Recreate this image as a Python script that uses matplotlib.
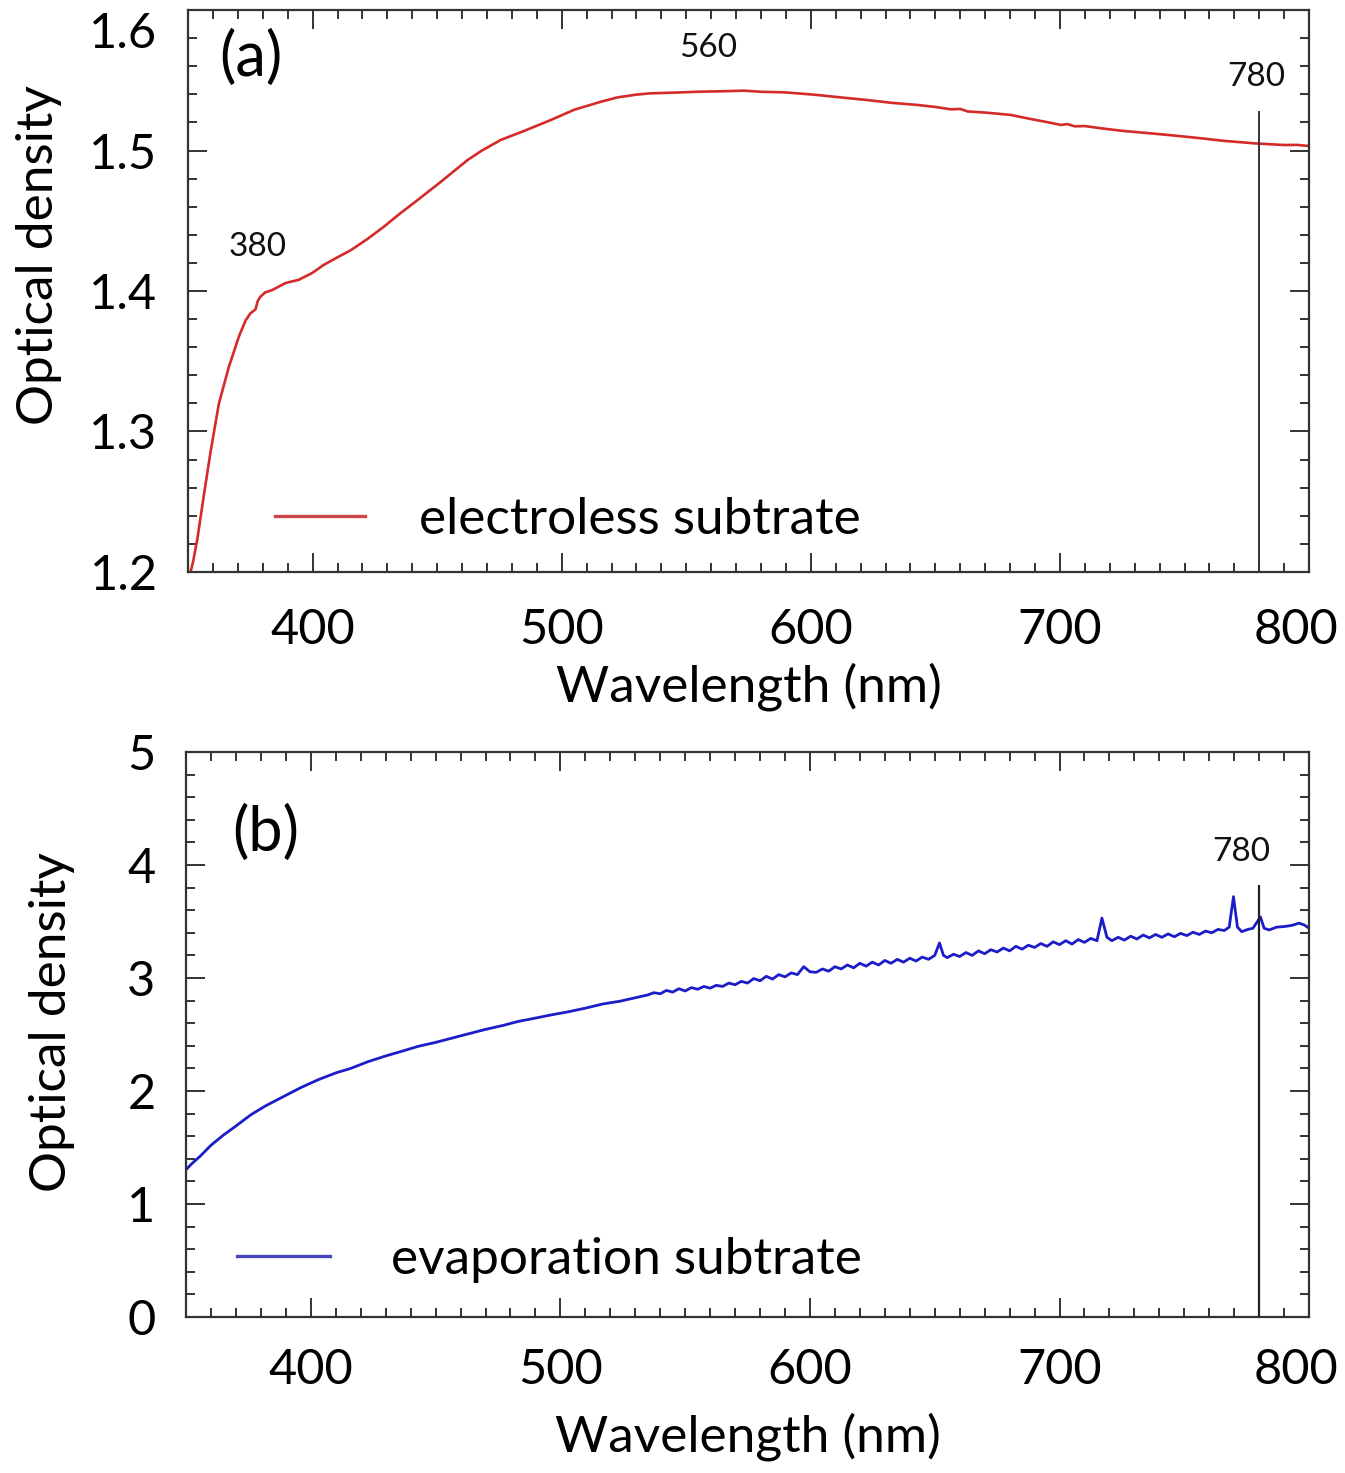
import matplotlib
matplotlib.use("Agg")
import matplotlib.pyplot as plt
from matplotlib.lines import Line2D
from matplotlib.ticker import MultipleLocator
from matplotlib.transforms import ScaledTranslation

plt.rcParams['font.family'] = ['Lato', 'DejaVu Sans']

# ---- (a) electroless substrate ----
wl_a = [351, 352, 353.7, 356.3, 359, 362.4, 366.4, 370.4, 373.1, 375, 377.1, 378,
        379.1, 381, 383.8, 389.2, 394.5, 400, 404.4, 410, 415.3, 422, 428.5, 435,
        442.2, 451.4, 462.2, 468, 475.5, 485, 495.6, 505, 515.7, 522.4, 530, 535.7,
        545, 555.8, 565, 573.2, 580, 589.3, 596, 602.7, 612, 622.8, 632, 642.9, 650,
        656.2, 660, 662.9, 670, 675, 680.3, 688, 694, 700.4, 703, 706, 710, 716.5,
        725, 736.5, 745, 756.6, 765, 778, 785, 790, 795, 800]
od_a = [1.200, 1.207, 1.223, 1.254, 1.285, 1.320, 1.346, 1.3675, 1.379, 1.384, 1.387,
        1.393, 1.396, 1.399, 1.4007, 1.4057, 1.408, 1.413, 1.4185, 1.424, 1.429, 1.437,
        1.4456, 1.455, 1.4648, 1.4776, 1.4932, 1.500, 1.5075, 1.514, 1.5217, 1.529,
        1.5347, 1.5378, 1.5398, 1.5407, 1.5412, 1.5419, 1.5422, 1.5426, 1.5418, 1.5414,
        1.5405, 1.5395, 1.5378, 1.5359, 1.534, 1.5324, 1.531, 1.5293, 1.5296, 1.5278,
        1.527, 1.5262, 1.5253, 1.5225, 1.5205, 1.5182, 1.5188, 1.5172, 1.5174, 1.5158,
        1.514, 1.5122, 1.5108, 1.5087, 1.507, 1.5051, 1.5044, 1.5039, 1.5040, 1.5032]

# ---- (b) evaporation substrate ----
wl_b = [349, 352, 356, 360, 365, 370, 376, 382, 389, 396, 403, 410, 416, 423, 430,
        437, 443, 450, 456, 463, 470, 477, 483, 490, 496, 503, 510, 517, 524, 530, 535,
        537.5, 540, 542.5, 545, 547.5, 550, 552.5, 555, 557.5, 560, 562.5, 565, 567.5,
        570, 572.5, 575, 577.5, 580, 582.5, 585, 587.5, 590, 592.5, 595, 597.5, 600,
        602.5, 605, 607.5, 610, 612.5, 615, 617.5, 620, 622.5, 625, 627.5, 630, 632.5,
        635, 637.5, 640, 642.5, 645, 647.5, 650, 651.9, 653.5, 655, 657.5, 660, 662.5,
        665, 667.5, 670, 672.5, 675, 677.5, 680, 682.5, 685, 687.5, 690, 692.5, 695,
        697.5, 700, 702.5, 705, 707.5, 710, 712.5, 715, 717, 719, 721, 723.5, 726,
        728.5, 731, 733.5, 736, 738.5, 741, 743.5, 746, 748.5, 751, 753.5, 756, 758.5,
        761, 763.5, 766, 768, 769.7, 771.3, 773, 775.5, 777.5, 780.5, 782, 784, 787,
        790, 793, 796, 798, 800]
od_b = [1.28, 1.35, 1.43, 1.52, 1.61, 1.69, 1.79, 1.87, 1.95, 2.03, 2.10, 2.16, 2.20,
        2.26, 2.31, 2.355, 2.395, 2.43, 2.465, 2.505, 2.545, 2.58, 2.615, 2.645, 2.672,
        2.70, 2.733, 2.77, 2.795, 2.825, 2.85,
        2.87, 2.86, 2.89, 2.875, 2.905, 2.885, 2.915, 2.90, 2.925, 2.91, 2.935, 2.925,
        2.955, 2.94, 2.97, 2.955, 2.995, 2.975, 3.015, 2.99, 3.03, 3.01, 3.045, 3.03,
        3.10, 3.055, 3.05, 3.08, 3.06, 3.10, 3.08, 3.115, 3.09, 3.13, 3.105, 3.14,
        3.115, 3.155, 3.13, 3.165, 3.14, 3.175, 3.15, 3.185, 3.165, 3.20, 3.31, 3.20,
        3.18, 3.21, 3.19, 3.225, 3.20, 3.24, 3.215, 3.25, 3.23, 3.265, 3.24, 3.28,
        3.255, 3.29, 3.27, 3.305, 3.28, 3.32, 3.295, 3.33, 3.30, 3.34, 3.315, 3.35,
        3.33, 3.53, 3.36, 3.33, 3.36, 3.335, 3.37, 3.345, 3.38, 3.355, 3.385, 3.36,
        3.39, 3.365, 3.395, 3.375, 3.405, 3.385, 3.415, 3.40, 3.43, 3.42, 3.45, 3.72,
        3.45, 3.41, 3.43, 3.44, 3.54, 3.44, 3.425, 3.45, 3.455, 3.465, 3.485, 3.47,
        3.44]

marker_wl = 780
peak_labels_a = ["380", "560", "780"]
peak_pos_a = [(377.9, 1.431), (558.6, 1.573), (778.7, 1.552)]

RED = '#d42a2a'
BLUE = '#1c1cc8'
FRAME = '#333333'
FS = 35
LFS = 37

fig = plt.figure(figsize=(13.45, 14.73), dpi=100)
ax_a = fig.add_axes([0.1398, 0.6117, 0.8335, 0.3815])
ax_b = fig.add_axes([0.1383, 0.1059, 0.8350, 0.3836])


def style(ax, ymajor, yminor, ypad, xpad):
    ax.set_xlim(350, 800)
    ax.xaxis.set_major_locator(MultipleLocator(100))
    ax.xaxis.set_minor_locator(MultipleLocator(10))
    ax.yaxis.set_major_locator(MultipleLocator(ymajor))
    ax.yaxis.set_minor_locator(MultipleLocator(yminor))
    ax.tick_params(which='both', direction='in', top=True, right=True,
                   color=FRAME, width=1.4)
    ax.tick_params(which='major', length=14)
    ax.tick_params(which='minor', length=6.5)
    ax.tick_params(axis='y', which='major', labelsize=FS, pad=ypad)
    ax.tick_params(axis='x', which='major', labelsize=FS, pad=xpad)
    for s in ax.spines.values():
        s.set_color(FRAME)
        s.set_linewidth(1.6)


# panel (a)
style(ax_a, 0.1, 0.02, 22, 26)
ax_a.set_ylim(1.2, 1.6)
ax_a.yaxis.set_major_formatter(plt.FuncFormatter(lambda v, p: f"{v:.1f}"))
ax_a.plot(wl_a, od_a, color=RED, lw=1.9)
ax_a.vlines(marker_wl, 1.2, 1.528, color=FRAME, lw=1.4)
for lab, (x, y) in zip(peak_labels_a, peak_pos_a):
    ax_a.text(x, y, lab, fontsize=24, ha='center', va='center', color='#111111')
ax_a.text(375.3, 1.566, "(a)", fontsize=44, ha='center', va='center')
ax_a.set_xlabel("Wavelength (nm)", fontsize=LFS)
ax_a.set_ylabel("Optical density", fontsize=LFS)
ax_a.xaxis.set_label_coords(0.5, -0.16)
ax_a.yaxis.set_label_coords(-0.112, 0.564)
ax_a.legend([Line2D([], [], color='#cc4444', lw=2.4)], ["electroless subtrate"],
            loc='center left', bbox_to_anchor=(0.0776, 0.0925), frameon=False,
            fontsize=LFS, handlelength=1.75, handletextpad=1.05,
            borderpad=0, borderaxespad=0)

# panel (b)
style(ax_b, 1, 0.2, 22, 22)
ax_b.set_ylim(0, 5)
ax_b.plot(wl_b, od_b, color=BLUE, lw=2.0)
ax_b.vlines(marker_wl, 0, 3.82, color='#222222', lw=1.6)
ax_b.text(773, 4.115, "780", fontsize=24, ha='center', va='center', color='#111111')
ax_b.text(382.1, 4.283, "(b)", fontsize=44, ha='center', va='center')
ax_b.set_xlabel("Wavelength (nm)", fontsize=LFS)
ax_b.set_ylabel("Optical density", fontsize=LFS)
ax_b.xaxis.set_label_coords(0.5, -0.168)
ax_b.yaxis.set_label_coords(-0.099, 0.522)
ax_b.legend([Line2D([], [], color='#4444bb', lw=2.4)], ["evaporation subtrate"],
            loc='center left', bbox_to_anchor=(0.0454, 0.101), frameon=False,
            fontsize=LFS, handlelength=1.8, handletextpad=1.2,
            borderpad=0, borderaxespad=0)

# keep the outermost tick labels inside the figure
fig.canvas.draw()
for ax in (ax_a, ax_b):
    for tick in ax.xaxis.get_major_ticks():
        if abs(tick.get_loc() - 800) < 1e-6:
            lbl = tick.label1
            lbl.set_transform(lbl.get_transform() +
                              ScaledTranslation(-13 / 100, 0, fig.dpi_scale_trans))
for tick in ax_a.yaxis.get_major_ticks():
    if abs(tick.get_loc() - 1.6) < 1e-6:
        lbl = tick.label1
        lbl.set_transform(lbl.get_transform() +
                          ScaledTranslation(0, -20 / 100, fig.dpi_scale_trans))

fig.savefig("out.png", dpi=100, facecolor='white')
